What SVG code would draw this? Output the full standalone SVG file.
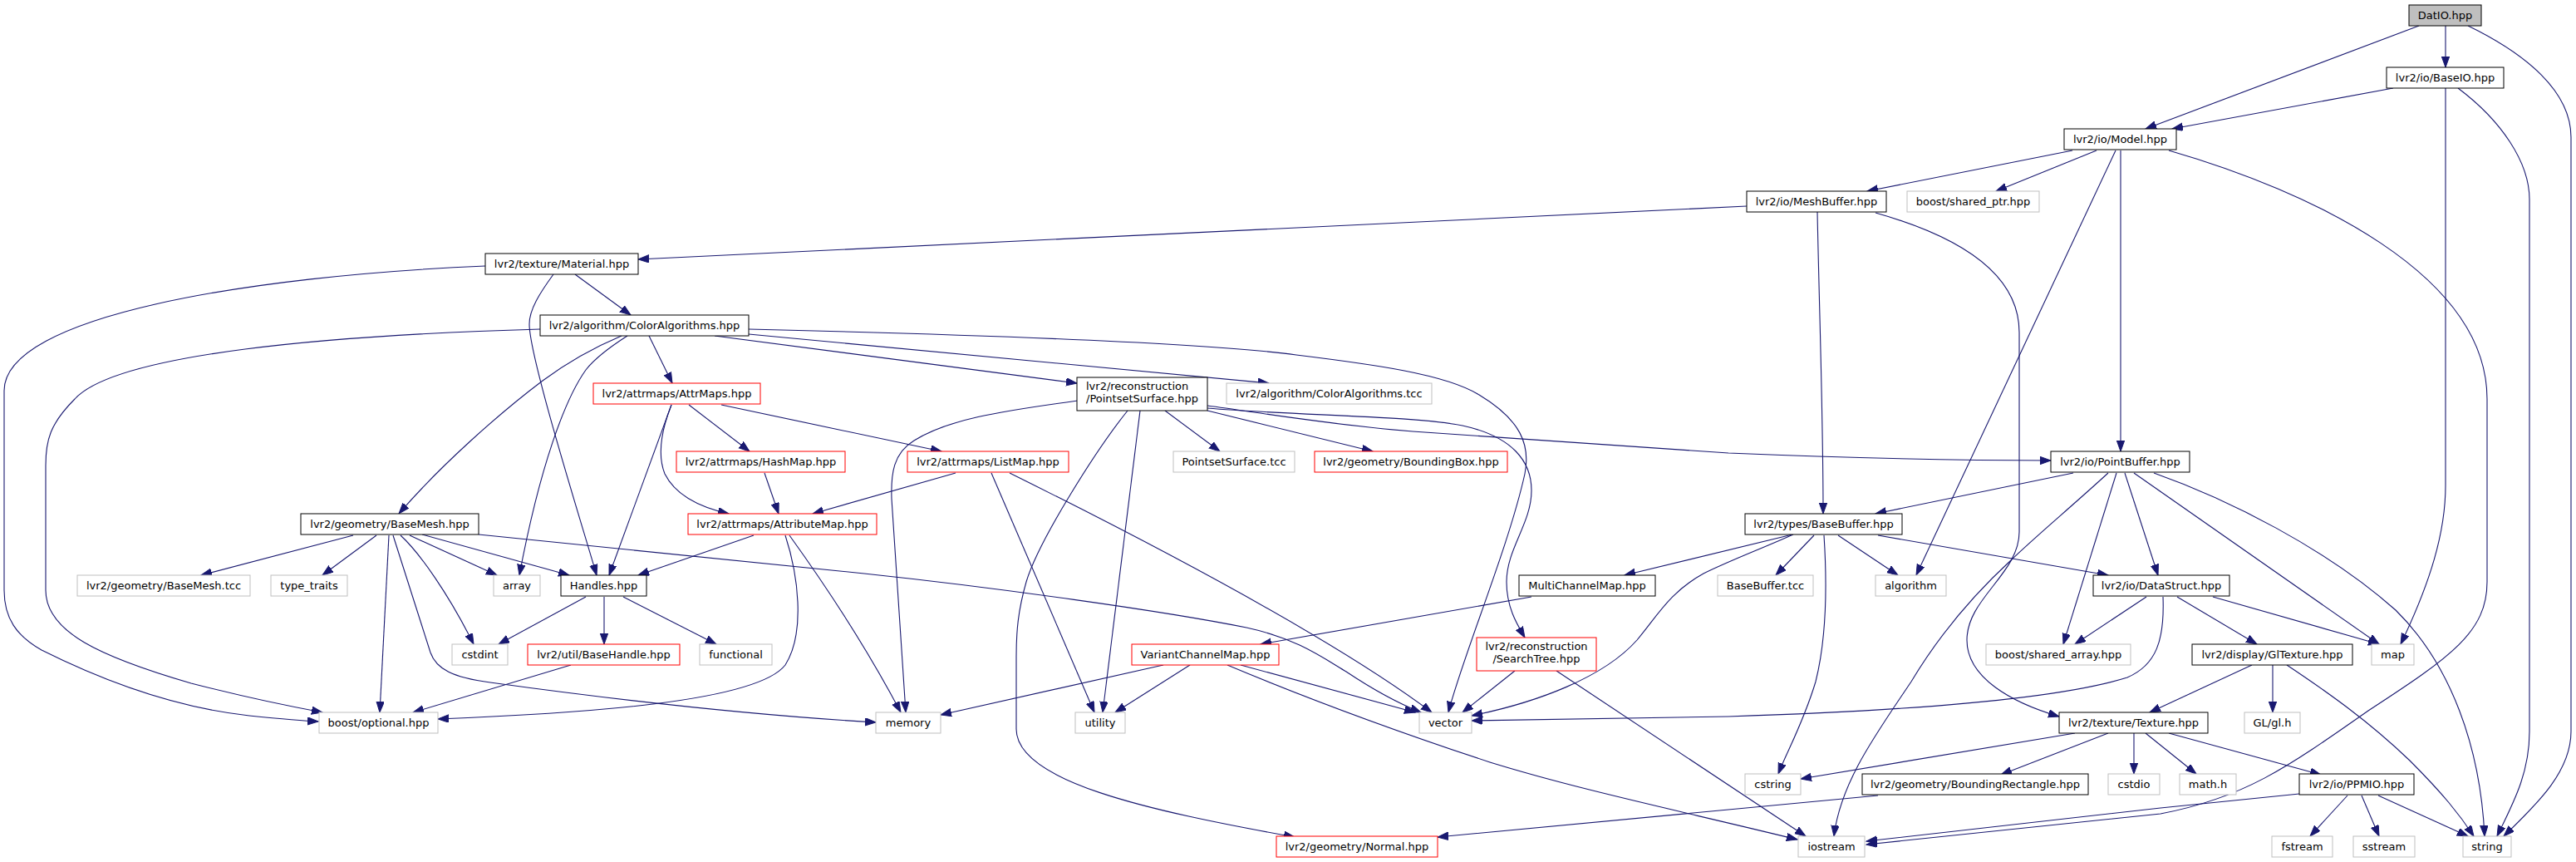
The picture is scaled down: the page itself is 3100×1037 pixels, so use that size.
<svg xmlns="http://www.w3.org/2000/svg" width="3100" height="1037" viewBox="0 0 3100 1037">
<style>
.nd rect{fill:#fff;stroke:#000;stroke-width:1}
.nd.red rect{stroke:#ff0000}
.nd.ext rect{stroke:#bfbfbf}
.nd.root rect{fill:#bfbfbf}
.nd text{font-family:"DejaVu Sans","Liberation Sans",sans-serif;font-size:13px;fill:#000;text-anchor:middle}
.nd text.l{text-anchor:start}
.ed path{fill:none;stroke:#191970;stroke-width:1.1;marker-end:url(#ah)}
</style>
<defs>
<marker id="ah" markerUnits="userSpaceOnUse" markerWidth="15" markerHeight="11" refX="13" refY="4.7" orient="auto">
<path d="M0,0 L13,4.7 L0,9.4 z" fill="#191970" stroke="#191970" stroke-width="1"/>
</marker>
</defs>
<rect width="3100" height="1037" fill="#fff"/>
<g class="ed" id="edges">
<path d="M2911,31 L2582,155"/>
<path d="M2943,31 L2943,81"/>
<path d="M2970,31 C3040,65 3094,110 3094,165 L3094,880 C3094,930 3050,970 3013,1006"/>
<path d="M2880,106 L2614,155"/>
<path d="M2943,106 L2943,584 C2943,640 2925,700 2889,775"/>
<path d="M2958,106 C3010,145 3044,195 3044,240 L3044,880 C3044,930 3025,965 3005,1006"/>
<path d="M2494,181 L2247,230"/>
<path d="M2523,181 L2402,230"/>
<path d="M2546,181 L2306,692"/>
<path d="M2552,181 L2552,543"/>
<path d="M2610,181 C2780,230 2993,330 2993,480 L2993,700 C2993,760 2950,790 2850,855 C2750,925 2700,960 2600,979 L2246,1016"/>
<path d="M2102,248 L768,312"/>
<path d="M2187,255 C2190,400 2194,500 2194,618"/>
<path d="M2257,256 C2360,285 2430,330 2430,400 L2430,640 C2430,690 2367,720 2367,770 C2367,815 2420,845 2478,862"/>
<path d="M692,330 L759,379"/>
<path d="M666,330 C650,352 637,372 637,390 C637,430 700,630 718,692"/>
<path d="M584,320 C300,332 5,380 5,470 L5,710 C5,744 20,765 50,782 C110,812 200,850 300,861 C330,864 360,867 383,868"/>
<path d="M650,396 C400,403 140,425 90,480 C60,510 55,530 55,560 L55,710 C55,760 120,790 230,822 C300,840 350,850 388,857"/>
<path d="M781,404 L809,461"/>
<path d="M748,404 C710,420 680,438 653,458 C600,498 530,560 480,618"/>
<path d="M755,404 C730,420 715,432 705,445 C680,480 650,560 625,692"/>
<path d="M860,404 L1296,461"/>
<path d="M901,402 L1527,461"/>
<path d="M901,396 C1150,402 1450,412 1560,427 C1650,438 1740,450 1780,475 C1830,505 1842,535 1835,570 C1815,660 1760,790 1743,857"/>
<path d="M1297,482 C1200,495 1140,505 1100,530 C1075,545 1072,570 1073,600 L1090,857"/>
<path d="M1357,494 C1320,540 1250,650 1235,700 C1225,735 1223,760 1223,790 L1223,877 C1223,940 1380,975 1558,1007"/>
<path d="M1372,494 L1327,857"/>
<path d="M1402,494 L1468,543"/>
<path d="M1453,494 L1652,543"/>
<path d="M1453,491 C1560,500 1700,500 1760,512 C1820,525 1843,555 1843,590 C1843,630 1813,660 1813,700 C1813,730 1825,750 1835,767"/>
<path d="M1453,488 C1520,497 1600,511 1700,519 L2080,545 C2250,552 2380,554 2468,554"/>
<path d="M808,487 L733,692"/>
<path d="M808,487 C797,515 790,545 800,570 C815,600 850,612 877,618"/>
<path d="M829,487 L902,543"/>
<path d="M868,487 L1133,543"/>
<path d="M920,569 L937,618"/>
<path d="M1150,569 L978,618"/>
<path d="M1193,569 L1317,857"/>
<path d="M1215,569 Q1580,750 1723,857"/>
<path d="M907,644 L768,692"/>
<path d="M950,644 Q1030,755 1084,857"/>
<path d="M945,644 C960,690 970,760 945,800 C910,845 700,858 527,865"/>
<path d="M425,644 L242,692"/>
<path d="M453,644 L388,692"/>
<path d="M468,644 L457,857"/>
<path d="M473,644 L518,785 C525,805 545,815 590,821 C800,850 950,863 1054,869"/>
<path d="M482,644 C505,665 540,715 570,775"/>
<path d="M493,644 L598,692"/>
<path d="M508,643 L685,692"/>
<path d="M576,643 L1040,690 C1200,707 1400,735 1500,755 C1560,768 1590,790 1620,808 C1650,828 1680,845 1710,857"/>
<path d="M705,718 L600,775"/>
<path d="M727,718 L727,775"/>
<path d="M750,718 L862,775"/>
<path d="M687,800 L497,857"/>
<path d="M1400,800 L1132,860"/>
<path d="M1432,800 L1342,857"/>
<path d="M1493,800 L1703,857"/>
<path d="M1477,800 C1520,818 1620,860 1793,917 C1900,950 2020,975 2163,1010"/>
<path d="M1843,718 L1517,775"/>
<path d="M1823,807 L1760,857"/>
<path d="M1873,807 L2173,1006"/>
<path d="M2157,643 L1955,692"/>
<path d="M2158,643 C2120,660 2080,675 2050,690 C2010,712 1995,740 1970,770 C1930,815 1850,845 1771,861"/>
<path d="M2183,644 L2137,692"/>
<path d="M2212,644 L2284,692"/>
<path d="M2260,644 L2537,692"/>
<path d="M2195,644 C2198,690 2200,760 2185,820 C2170,870 2150,905 2140,931"/>
<path d="M2495,569 L2257,618"/>
<path d="M2537,569 C2490,612 2450,645 2420,674 C2370,720 2330,770 2300,820 C2260,880 2215,940 2207,1006"/>
<path d="M2547,569 L2483,775"/>
<path d="M2557,569 L2597,692"/>
<path d="M2568,569 L2863,775"/>
<path d="M2592,569 C2680,600 2800,660 2883,734 C2950,800 2985,900 2990,1006"/>
<path d="M2583,718 L2497,775"/>
<path d="M2620,718 L2716,775"/>
<path d="M2663,718 L2863,775"/>
<path d="M2603,718 C2605,770 2595,800 2560,815 C2480,840 2300,855 2080,862 L1771,867"/>
<path d="M2710,800 L2587,857"/>
<path d="M2735,800 L2735,857"/>
<path d="M2752,800 C2800,832 2850,867 2900,915 C2940,955 2960,980 2977,1006"/>
<path d="M2497,882 L2167,937"/>
<path d="M2537,882 L2408,932"/>
<path d="M2568,882 L2568,931"/>
<path d="M2582,882 L2643,931"/>
<path d="M2610,882 L2793,932"/>
<path d="M2825,957 L2780,1006"/>
<path d="M2842,957 L2863,1006"/>
<path d="M2862,957 L2970,1006"/>
<path d="M2767,955 L2600,972 L2246,1012"/>
<path d="M2260,957 L2080,974 L1730,1007"/>
</g>
<g class="nd root" id="n_datio"><rect x="2899" y="6" width="87" height="25"/><text x="2942.5" y="23">DatIO.hpp</text></g>
<g class="nd" id="n_baseio"><rect x="2872" y="81" width="141" height="25"/><text x="2942.5" y="98">lvr2/io/BaseIO.hpp</text></g>
<g class="nd" id="n_model"><rect x="2484" y="155" width="135" height="25"/><text x="2551.5" y="172">lvr2/io/Model.hpp</text></g>
<g class="nd" id="n_meshbuffer"><rect x="2102" y="230" width="168" height="25"/><text x="2186" y="247">lvr2/io/MeshBuffer.hpp</text></g>
<g class="nd ext" id="n_sharedptr"><rect x="2295" y="230" width="159" height="25"/><text x="2374.5" y="247">boost/shared_ptr.hpp</text></g>
<g class="nd" id="n_material"><rect x="584" y="305" width="184" height="25"/><text x="676" y="322">lvr2/texture/Material.hpp</text></g>
<g class="nd" id="n_coloralg"><rect x="650" y="379" width="251" height="25"/><text x="775.5" y="396">lvr2/algorithm/ColorAlgorithms.hpp</text></g>
<g class="nd red" id="n_attrmaps"><rect x="714" y="461" width="201" height="25"/><text x="814.5" y="478">lvr2/attrmaps/AttrMaps.hpp</text></g>
<g class="nd" id="n_pointsetsurface"><rect x="1296" y="454" width="157" height="40"/><text class="l" x="1307" y="469">lvr2/reconstruction</text><text class="l" x="1307" y="484">/PointsetSurface.hpp</text></g>
<g class="nd ext" id="n_coloralgtcc"><rect x="1476" y="461" width="247" height="25"/><text x="1599.5" y="478">lvr2/algorithm/ColorAlgorithms.tcc</text></g>
<g class="nd red" id="n_hashmap"><rect x="814" y="543" width="203" height="25"/><text x="915.5" y="560">lvr2/attrmaps/HashMap.hpp</text></g>
<g class="nd red" id="n_listmap"><rect x="1092" y="543" width="194" height="25"/><text x="1189" y="560">lvr2/attrmaps/ListMap.hpp</text></g>
<g class="nd ext" id="n_pstcc"><rect x="1412" y="543" width="146" height="25"/><text x="1485" y="560">PointsetSurface.tcc</text></g>
<g class="nd red" id="n_boundingbox"><rect x="1582" y="543" width="232" height="25"/><text x="1698" y="560">lvr2/geometry/BoundingBox.hpp</text></g>
<g class="nd" id="n_pointbuffer"><rect x="2468" y="543" width="167" height="25"/><text x="2551.5" y="560">lvr2/io/PointBuffer.hpp</text></g>
<g class="nd" id="n_basemesh"><rect x="362" y="618" width="214" height="25"/><text x="469" y="635">lvr2/geometry/BaseMesh.hpp</text></g>
<g class="nd red" id="n_attributemap"><rect x="828" y="618" width="227" height="25"/><text x="941.5" y="635">lvr2/attrmaps/AttributeMap.hpp</text></g>
<g class="nd" id="n_basebuffer"><rect x="2100" y="618" width="189" height="25"/><text x="2194.5" y="635">lvr2/types/BaseBuffer.hpp</text></g>
<g class="nd ext" id="n_basemeshtcc"><rect x="93" y="692" width="208" height="25"/><text x="197" y="709">lvr2/geometry/BaseMesh.tcc</text></g>
<g class="nd ext" id="n_typetraits"><rect x="326" y="692" width="92" height="25"/><text x="372" y="709">type_traits</text></g>
<g class="nd ext" id="n_array"><rect x="594" y="692" width="56" height="25"/><text x="622" y="709">array</text></g>
<g class="nd" id="n_handles"><rect x="675" y="692" width="103" height="25"/><text x="726.5" y="709">Handles.hpp</text></g>
<g class="nd" id="n_multichannelmap"><rect x="1828" y="692" width="164" height="25"/><text x="1910" y="709">MultiChannelMap.hpp</text></g>
<g class="nd ext" id="n_basebuffertcc"><rect x="2067" y="692" width="115" height="25"/><text x="2124.5" y="709">BaseBuffer.tcc</text></g>
<g class="nd ext" id="n_algorithm"><rect x="2257" y="692" width="85" height="25"/><text x="2299.5" y="709">algorithm</text></g>
<g class="nd" id="n_datastruct"><rect x="2519" y="692" width="164" height="25"/><text x="2601" y="709">lvr2/io/DataStruct.hpp</text></g>
<g class="nd ext" id="n_cstdint"><rect x="544" y="775" width="67" height="25"/><text x="577.5" y="792">cstdint</text></g>
<g class="nd red" id="n_basehandle"><rect x="635" y="775" width="183" height="25"/><text x="726.5" y="792">lvr2/util/BaseHandle.hpp</text></g>
<g class="nd ext" id="n_functional"><rect x="842" y="775" width="87" height="25"/><text x="885.5" y="792">functional</text></g>
<g class="nd red" id="n_variantchannelmap"><rect x="1362" y="775" width="177" height="25"/><text x="1450.5" y="792">VariantChannelMap.hpp</text></g>
<g class="nd red" id="n_searchtree"><rect x="1777" y="767" width="144" height="40"/><text x="1849" y="782">lvr2/reconstruction</text><text x="1849" y="797">/SearchTree.hpp</text></g>
<g class="nd ext" id="n_sharedarray"><rect x="2390" y="775" width="174" height="25"/><text x="2477" y="792">boost/shared_array.hpp</text></g>
<g class="nd" id="n_gltexture"><rect x="2638" y="775" width="193" height="25"/><text x="2734.5" y="792">lvr2/display/GlTexture.hpp</text></g>
<g class="nd ext" id="n_map"><rect x="2854" y="775" width="51" height="25"/><text x="2879.5" y="792">map</text></g>
<g class="nd ext" id="n_optional"><rect x="384" y="857" width="143" height="25"/><text x="455.5" y="874">boost/optional.hpp</text></g>
<g class="nd ext" id="n_memory"><rect x="1054" y="857" width="78" height="25"/><text x="1093" y="874">memory</text></g>
<g class="nd ext" id="n_utility"><rect x="1294" y="857" width="60" height="25"/><text x="1324" y="874">utility</text></g>
<g class="nd ext" id="n_vector"><rect x="1708" y="857" width="63" height="25"/><text x="1739.5" y="874">vector</text></g>
<g class="nd" id="n_texture"><rect x="2478" y="857" width="179" height="25"/><text x="2567.5" y="874">lvr2/texture/Texture.hpp</text></g>
<g class="nd ext" id="n_glh"><rect x="2701" y="857" width="67" height="25"/><text x="2734.5" y="874">GL/gl.h</text></g>
<g class="nd ext" id="n_cstring"><rect x="2100" y="931" width="67" height="25"/><text x="2133.5" y="948">cstring</text></g>
<g class="nd" id="n_boundingrect"><rect x="2241" y="931" width="272" height="25"/><text x="2377" y="948">lvr2/geometry/BoundingRectangle.hpp</text></g>
<g class="nd ext" id="n_cstdio"><rect x="2537" y="931" width="62" height="25"/><text x="2568" y="948">cstdio</text></g>
<g class="nd ext" id="n_mathh"><rect x="2623" y="931" width="68" height="25"/><text x="2657" y="948">math.h</text></g>
<g class="nd" id="n_ppmio"><rect x="2767" y="931" width="138" height="25"/><text x="2836" y="948">lvr2/io/PPMIO.hpp</text></g>
<g class="nd red" id="n_normal"><rect x="1536" y="1006" width="194" height="25"/><text x="1633" y="1023">lvr2/geometry/Normal.hpp</text></g>
<g class="nd ext" id="n_iostream"><rect x="2164" y="1006" width="80" height="25"/><text x="2204" y="1023">iostream</text></g>
<g class="nd ext" id="n_fstream"><rect x="2734" y="1006" width="73" height="25"/><text x="2770.5" y="1023">fstream</text></g>
<g class="nd ext" id="n_sstream"><rect x="2832" y="1006" width="74" height="25"/><text x="2869" y="1023">sstream</text></g>
<g class="nd ext" id="n_string"><rect x="2964" y="1006" width="58" height="25"/><text x="2993" y="1023">string</text></g>
</svg>
